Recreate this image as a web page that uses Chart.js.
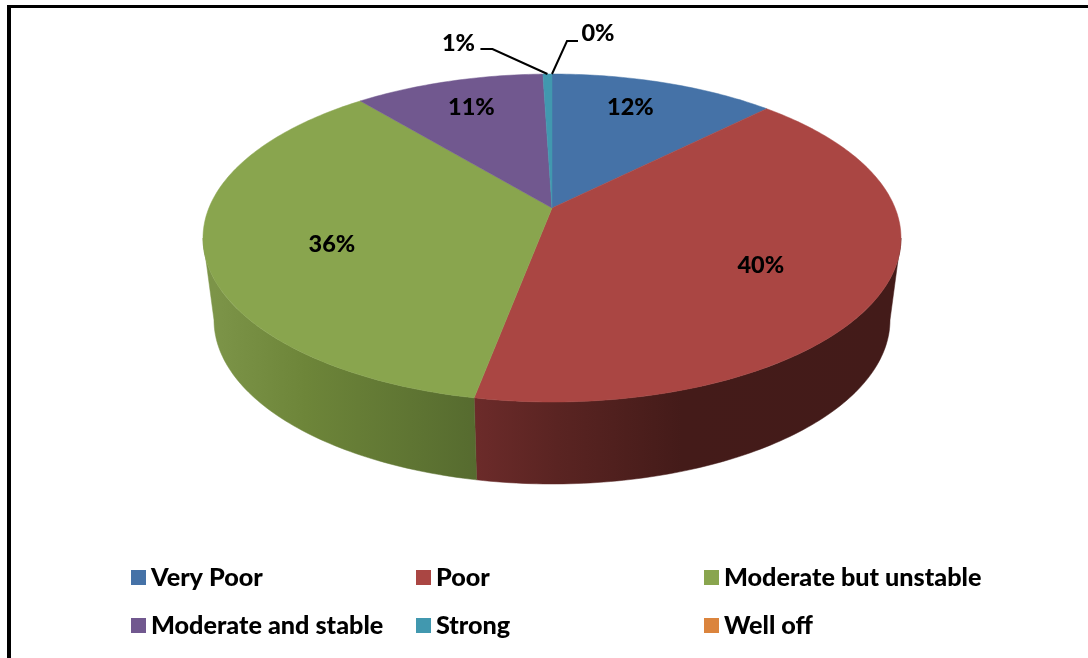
<!DOCTYPE html>
<html>
<head>
<meta charset="utf-8">
<style>html,body{margin:0;padding:0;background:#fff;overflow:hidden}canvas{display:block}</style>
<script src="https://cdn.jsdelivr.net/npm/chart.js@4"></script>
</head>
<body>
<canvas id="c" width="1088" height="658"></canvas>
<script>
const categories = ["Very Poor", "Poor", "Moderate but unstable", "Moderate and stable", "Strong", "Well off"];
const shares = [12.49, 40.49, 36.02, 10.5, 0.5, 0];
const sliceColors = ["#4572A7", "#AA4643", "#89A54E", "#71588F", "#4198AF", "#DB843D"];

const FONT = '900 25.2px Lato, "Open Sans", sans-serif';
const LABEL_FONT = '900 23.5px Lato, "Open Sans", sans-serif';

// Perspective view of the disc: the centre sits above the middle of the ellipse.
const view = { cx: 552, cy: 208, A: 343.1, B: 158.5, k: 0.183, depth: 82, floorScale: 0.9685 };
function topPoint(theta, r) {
  r = r === undefined ? 1 : r;
  const u = r * Math.sin(theta), v = r * Math.cos(theta), d = 1 + view.k * v;
  return { x: view.cx + view.A * u / d, y: view.cy - view.B * v / d };
}
function floorPoint(theta) {
  const p = topPoint(theta);
  return { x: view.cx + (p.x - view.cx) * view.floorScale, y: p.y + view.depth };
}
const toTheta = a => a + Math.PI / 2;
const STEPS_PER_RAD = 60;
function trace(ctx, fn, a, b, first) {
  const n = Math.max(1, Math.ceil(Math.abs(b - a) * STEPS_PER_RAD));
  for (let i = 0; i <= n; i++) {
    const p = fn(a + (b - a) * i / n);
    if (first && i === 0) ctx.moveTo(p.x, p.y); else ctx.lineTo(p.x, p.y);
  }
}
const wallFrom = Math.acos(-view.k), wallTo = 2 * Math.PI - Math.acos(-view.k);
const wallStops = {
  1: { x0: 474, x1: 890, stops: [[0, "#6c2b2a"], [0.2, "#5a2422"], [0.5, "#441b19"], [1, "#431b19"]] },
  2: { x0: 215, x1: 476, stops: [[0, "#7c9448"], [0.35, "#6d8539"], [1, "#566b2f"]] }
};

// Per-slice label placement, relative to the slice's mid-angle.
const labelPlacement = [
  { r: 0.76, dx: -10, dy: -2 },
  { r: 0.65, dx: 0, dy: 6 },
  { r: 0.66, dx: 6, dy: 10 },
  { r: 0.76, dx: 1, dy: -1 },
  { leader: [[-55, -25], [-67, -25]], text: [-89, -31] },
  { leader: [[15, -33], [26, -33]], text: [46, -41] }
];
const legendColumns = [131, 416, 704];
const legendRows = [578, 626];

const pie3d = {
  id: "pie3d",
  beforeDraw(chart) {
    const ctx = chart.ctx;
    ctx.save();
    ctx.fillStyle = "#000";
    ctx.fillRect(7, 5, 1081, 3);
    ctx.fillRect(7, 5, 4, 653);
    ctx.restore();
  },
  beforeDatasetsDraw(chart) {
    const ctx = chart.ctx, arcs = chart.getDatasetMeta(0).data;
    arcs.forEach((el, i) => {
      const t1 = toTheta(el.startAngle), t2 = toTheta(el.endAngle);
      const a = Math.max(t1, wallFrom), b = Math.min(t2, wallTo);
      if (b > a && wallStops[i]) {
        const w = wallStops[i], g = ctx.createLinearGradient(w.x0, 0, w.x1, 0);
        w.stops.forEach(s => g.addColorStop(s[0], s[1]));
        ctx.save();
        ctx.beginPath();
        trace(ctx, topPoint, a, b, true);
        trace(ctx, floorPoint, b, a, false);
        ctx.closePath();
        ctx.fillStyle = g;
        ctx.fill();
        ctx.strokeStyle = g;
        ctx.lineWidth = 0.5;
        ctx.stroke();
        ctx.restore();
      }
      el.draw = function (c) {
        if (el.endAngle <= el.startAngle) return;
        c.save();
        c.beginPath();
        c.moveTo(view.cx, view.cy);
        trace(c, topPoint, toTheta(el.startAngle), toTheta(el.endAngle), false);
        c.closePath();
        c.fillStyle = el.options.backgroundColor;
        c.fill();
        c.strokeStyle = el.options.backgroundColor;
        c.lineWidth = 0.5;
        c.stroke();
        c.restore();
      };
    });
  },
  afterDatasetsDraw(chart) {
    const ctx = chart.ctx, arcs = chart.getDatasetMeta(0).data;
    const values = chart.data.datasets[0].data, total = values.reduce((s, v) => s + v, 0);
    ctx.save();
    ctx.fillStyle = "#000";
    ctx.strokeStyle = "#000";
    ctx.font = LABEL_FONT;
    ctx.textAlign = "center";
    ctx.textBaseline = "middle";
    arcs.forEach((el, i) => {
      const text = Math.round(values[i] / total * 100) + "%";
      const mid = toTheta((el.startAngle + el.endAngle) / 2), place = labelPlacement[i];
      if (place.leader) {
        const p = topPoint(mid);
        ctx.lineWidth = 2;
        ctx.beginPath();
        ctx.moveTo(p.x, p.y);
        place.leader.forEach(o => ctx.lineTo(p.x + o[0], p.y + o[1]));
        ctx.stroke();
        ctx.fillText(text, p.x + place.text[0], p.y + place.text[1]);
      } else {
        const p = topPoint(mid, place.r);
        ctx.fillText(text, p.x + place.dx, p.y + place.dy);
      }
    });
    ctx.restore();
  },
  afterDraw(chart) {
    const ctx = chart.ctx;
    ctx.save();
    ctx.font = FONT;
    ctx.textAlign = "left";
    ctx.textBaseline = "middle";
    chart.data.labels.forEach((name, i) => {
      const x = legendColumns[i % 3], y = legendRows[Math.floor(i / 3)];
      ctx.fillStyle = sliceColors[i];
      ctx.fillRect(x, y - 8, 15, 15);
      ctx.fillStyle = "#000";
      ctx.fillText(name, x + 20, y);
    });
    ctx.restore();
  }
};

new Chart(document.getElementById("c"), {
  type: "pie",
  data: {
    labels: categories,
    datasets: [{ data: shares, backgroundColor: sliceColors, borderWidth: 0 }]
  },
  options: {
    responsive: false,
    animation: false,
    devicePixelRatio: 1,
    plugins: { legend: { display: false }, tooltip: { enabled: false } },
    events: []
  },
  plugins: [pie3d]
});
</script>
</body>
</html>
